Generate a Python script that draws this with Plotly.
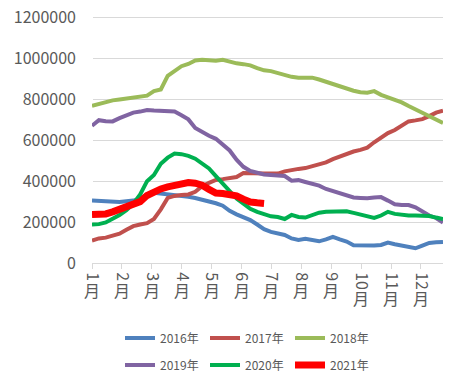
import plotly.graph_objects as go

weeks = list(range(52))
month_labels = ["1", "2", "3", "4", "5", "6", "7", "8", "9", "10", "11", "12"]
month_suffix = "月"
y_ticks = [0, 200000, 400000, 600000, 800000, 1000000, 1200000]

v2016 = [305, 303, 301, 298, 298, 302, 305, 315, 335, 343, 340, 333, 330, 327, 324, 318,
         310, 303, 292, 280, 255, 238, 225, 210, 188, 165, 152, 145, 137, 120, 113, 118,
         112, 106, 115, 128, 115, 105, 87, 85, 85, 85, 88, 100, 92, 85, 76, 72, 85, 98, 101, 103]
v2017 = [110, 120, 124, 132, 143, 162, 180, 188, 195, 215, 262, 318, 328, 332, 335, 348,
         375, 392, 406, 410, 414, 420, 440, 438, 437, 437, 437, 437, 448, 456, 460, 464,
         474, 485, 492, 508, 520, 535, 545, 553, 564, 590, 615, 635, 650, 670, 692, 697, 703, 718, 735, 745]
v2018 = [768, 778, 787, 795, 799, 803, 807, 811, 818, 840, 848, 915, 940, 962, 973, 990,
         993, 991, 989, 993, 984, 976, 972, 966, 953, 942, 938, 928, 918, 910, 905, 907,
         906, 897, 886, 874, 862, 852, 842, 835, 832, 840, 822, 810, 800, 785, 767, 750, 733, 715, 698, 684]
v2019 = [671, 698, 693, 692, 708, 722, 735, 740, 748, 745, 744, 745, 740, 722, 702, 660,
         640, 622, 607, 578, 550, 505, 470, 450, 440, 433, 430, 428, 425, 402, 405, 396,
         388, 378, 362, 352, 342, 332, 320, 318, 316, 320, 322, 305, 287, 284, 283, 272, 250, 232, 220, 198]
v2020 = [188, 190, 198, 215, 235, 258, 290, 335, 400, 430, 485, 515, 535, 532, 524, 510,
         485, 462, 425, 390, 350, 315, 290, 265, 250, 240, 228, 225, 215, 235, 225, 222,
         232, 246, 250, 252, 253, 253, 245, 235, 225, 220, 232, 250, 240, 234, 232, 232, 233, 230, 222, 215]
v2021 = [237, 238, 240, 250, 262, 270, 280, 300, 330, 348, 362, 372, 380, 388, 393, 390,
         380, 360, 342, 340, 336, 328, 312, 298, 294, 291]

series = [
    ("2016年", v2016, "#4F81BD", 4, "legend"),
    ("2017年", v2017, "#C0504D", 4, "legend"),
    ("2018年", v2018, "#9BBB59", 4, "legend"),
    ("2019年", v2019, "#8064A2", 4, "legend2"),
    ("2020年", v2020, "#00B050", 4, "legend2"),
    ("2021年", v2021, "#FF0000", 7, "legend2"),
]

FONT = "Noto Sans CJK SC"
GRAY = "#595959"
GRID = "#D9D9D9"
W, H = 457, 374  # page body has an 8px default margin

fig = go.Figure()
for name, vals, color, width, leg in series:
    fig.add_trace(go.Scatter(
        x=weeks[:len(vals)], y=[v * 1000 for v in vals], mode="lines", name=name,
        line=dict(color=color, width=width), legend=leg,
    ))

# month start positions in week units (calendar month / 7 days)
tick_pos = [m * (365 / 12) / 7 for m in range(12)]

legend_common = dict(orientation="h", xref="container", yref="container",
                     xanchor="left", yanchor="middle", entrywidth=40, entrywidthmode="pixels",
                     font=dict(size=12, color=GRAY, family=FONT), bgcolor="rgba(0,0,0,0)")

fig.update_layout(
    width=W, height=H,
    margin=dict(l=84, r=22, t=8, b=118.5, autoexpand=False),
    plot_bgcolor="white", paper_bgcolor="white",
    font=dict(family=FONT, color=GRAY, size=16),
    xaxis=dict(range=[0, 51], tickvals=tick_pos, ticktext=month_labels, tickangle=90,
               showgrid=False, showline=True, linecolor=GRID, linewidth=1, automargin=False,
               ticklabeloverflow="allow",
               ticks="outside", ticklen=5, tickcolor=GRID, tickfont=dict(size=16, color=GRAY)),
    yaxis=dict(range=[0, 1207300], tickvals=y_ticks, tickformat="d", automargin=False,
               ticklabeloverflow="allow",
               showgrid=True, gridcolor=GRID, gridwidth=1, zeroline=False,
               showline=False, ticks="", ticklabelstandoff=15, tickfont=dict(size=16, color=GRAY)),
    legend=dict(x=112 / W, y=1 - 330 / H, **legend_common),
    legend2=dict(x=112 / W, y=1 - 357 / H, **legend_common),
    showlegend=True,
)

for pos, lab in zip(tick_pos, month_labels):
    fig.add_annotation(x=pos, y=0, xref="x", yref="y", text=month_suffix, showarrow=False,
                       yanchor="top", yshift=-(13 if len(lab) == 1 else 21),
                       font=dict(size=16, color=GRAY, family=FONT))

fig.write_html("out.html")
